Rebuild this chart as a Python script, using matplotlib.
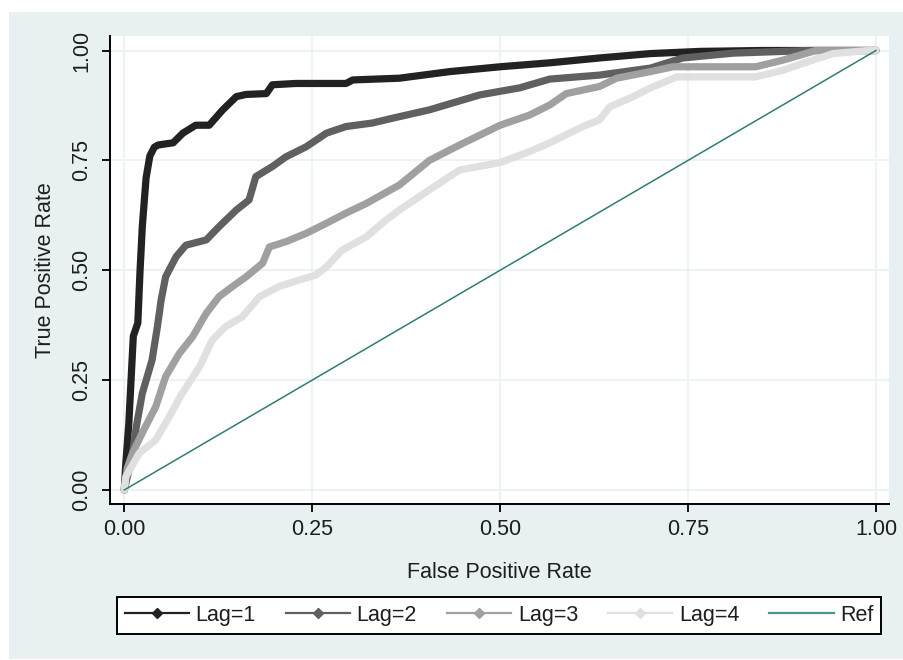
import matplotlib
matplotlib.use("Agg")
import matplotlib.pyplot as plt
from matplotlib.lines import Line2D
from matplotlib.patches import Rectangle

plt.rcParams['font.family'] = ['Liberation Sans', 'DejaVu Sans']

# ---- data ----
lag1_fpr = [0, .002, .006, .009, .012, .018, .021, .024, .029, .034, .040, .045, .065, .078, .095, .113,
            .131, .149, .162, .189, .197, .228, .295, .304, .366, .433, .5, .566, .632, .70, .766, .85, 1.0]
lag1_tpr = [0, .06, .15, .25, .35, .38, .50, .60, .71, .76, .78, .785, .79, .812, .83, .83,
            .865, .895, .90, .902, .922, .925, .925, .933, .937, .952, .963, .972, .983, .993, .998, 1.0, 1.0]

lag2_fpr = [0, .004, .009, .016, .024, .037, .044, .049, .055, .069, .082, .109, .126, .149, .166, .175,
            .197, .215, .242, .269, .295, .33, .357, .406, .473, .526, .566, .632, .70, .743, .81, .91, 1.0]
lag2_tpr = [0, .03, .06, .144, .22, .296, .371, .432, .485, .531, .557, .569, .599, .637, .66, .713,
            .736, .758, .781, .812, .827, .835, .846, .865, .899, .915, .935, .944, .96, .983, .994, 1.0, 1.0]

lag3_fpr = [0, .004, .011, .024, .042, .055, .073, .091, .109, .126, .144, .162, .184, .193, .215, .242, .269,
            .295, .322, .366, .406, .446, .5, .539, .566, .588, .632, .655, .70, .73, .84, .876, .92, 1.0]
lag3_tpr = [0, .05, .084, .13, .19, .258, .31, .349, .402, .44, .463, .485, .516, .553, .565, .584, .607,
            .63, .652, .694, .75, .785, .83, .853, .876, .902, .918, .937, .952, .963, .963, .978, 1.0, 1.0]

lag4_fpr = [0, .002, .02, .042, .06, .077, .1, .117, .135, .157, .18, .206, .233, .255, .269, .29, .322, .348,
            .366, .406, .446, .5, .539, .566, .61, .632, .646, .677, .7, .735, .84, .876, .903, .943, .99, 1.0]
lag4_tpr = [0, .03, .084, .114, .167, .22, .28, .341, .372, .394, .44, .463, .478, .489, .508, .546, .576, .614,
            .637, .683, .728, .745, .77, .79, .827, .842, .872, .895, .915, .94, .94, .955, .971, .993, 1.0, 1.0]

ref_x = [0, 1]
ref_y = [0, 1]

labels = ["Lag=1", "Lag=2", "Lag=3", "Lag=4", "Ref"]
ticks = [0, 0.25, 0.5, 0.75, 1.0]
tick_labels = ["0.00", "0.25", "0.50", "0.75", "1.00"]

colors = ["#222222", "#606060", "#a0a0a0", "#e0e0e0", "#2e7d74"]
text_color = "#1e1e1e"
panel_color = "#e8f0f2"
grid_color = "#eaf2f3"

W, H = 904, 660
fig = plt.figure(figsize=(W / 100, H / 100), dpi=100, facecolor="white")
fig.patches.append(Rectangle((9 / W, 1 / H), 1 - 9 / W, 1 - 12 / H - 1 / H,
                             transform=fig.transFigure, facecolor=panel_color,
                             edgecolor="none", zorder=-10))

ax = fig.add_axes([110 / W, 1 - 504 / H, (889 - 110) / W, (504 - 36) / H])
ax.set_facecolor("white")

series = [(lag1_fpr, lag1_tpr), (lag2_fpr, lag2_tpr), (lag3_fpr, lag3_tpr), (lag4_fpr, lag4_tpr)]
for i, (xs, ys) in enumerate(series):
    ax.plot(xs, ys, color=colors[i], lw=5.2, solid_joinstyle="round", solid_capstyle="round", zorder=3 + i)
ax.plot(ref_x, ref_y, color=colors[4], lw=1.1, zorder=10)

ax.set_xlim(-0.019, 1.0173)
ax.set_ylim(-0.0319, 1.033)
ax.set_xticks(ticks)
ax.set_xticklabels(tick_labels)
ax.set_yticks(ticks)
ax.set_yticklabels(tick_labels, rotation=90, va="center")
ax.grid(True, color=grid_color, lw=1.3, zorder=0)
ax.set_axisbelow(True)

for s in ["top", "right"]:
    ax.spines[s].set_visible(False)
for s in ["left", "bottom"]:
    ax.spines[s].set_color("black")
    ax.spines[s].set_linewidth(1.4)

ax.tick_params(axis="both", direction="out", length=6, width=1.3, color="black",
               labelsize=15.5, labelcolor=text_color)
ax.tick_params(axis="x", pad=5)
ax.tick_params(axis="y", pad=7)

ax.set_xlabel("False Positive Rate", fontsize=15.5, color=text_color, labelpad=16)
ax.set_ylabel("True Positive Rate", fontsize=15.5, color=text_color, labelpad=11)

handles = []
for i in range(4):
    handles.append(Line2D([0], [0], color=colors[i], lw=1.6, marker="D", markersize=5.5,
                          markerfacecolor=colors[i], markeredgecolor=colors[i]))
handles.append(Line2D([0], [0], color="#4f948c", lw=1.6))

leg = fig.legend(handles, labels, ncol=5, mode="expand", loc="center",
                 bbox_to_anchor=(117 / W, 1 - 637 / H, (881 - 117) / W, (637 - 594) / H),
                 bbox_transform=fig.transFigure, fontsize=15.5, frameon=True, fancybox=False,
                 borderaxespad=0, borderpad=0.35, handlelength=3.0, handletextpad=0.3,
                 columnspacing=1.0)
for t in leg.get_texts():
    t.set_color(text_color)
fr = leg.get_frame()
fr.set_edgecolor("black")
fr.set_linewidth(1.4)
fr.set_facecolor("white")
fr.set_alpha(1)

fig.savefig("out.png", dpi=100, facecolor="white")
